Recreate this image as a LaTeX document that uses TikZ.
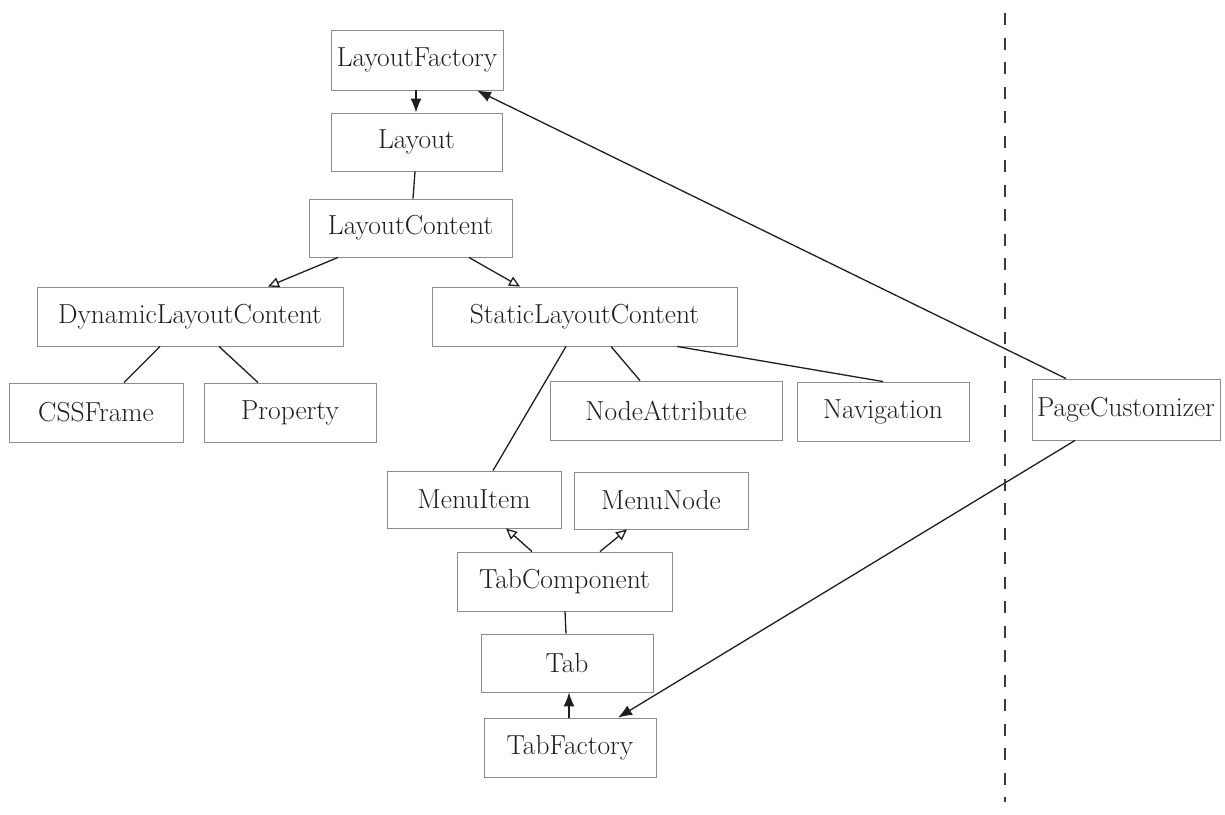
\documentclass[tikz,border=0pt]{standalone}
\usepackage{fontspec}
\usetikzlibrary{arrows.meta}
\definecolor{boxline}{HTML}{8C8C8C}
\definecolor{ink}{HTML}{1E1E1E}
\definecolor{divider}{HTML}{3A3A3A}
\begin{document}
\begin{tikzpicture}[x=1pt,y=-1pt,
  cls/.style={draw=boxline, line width=0.9pt, inner sep=0pt, text=ink,
    font=\fontsize{27.5}{30}\selectfont, minimum height=58pt},
  link/.style={draw=ink, line width=1.3pt},
  uses/.style={link, -{Latex[length=14pt,width=11pt]}},
  isa/.style={link, -{Triangle[open,length=11pt,width=10pt]}},
]
\useasboundingbox (0,0) rectangle (1225,814);

% classes
\node[cls, minimum width=172pt, minimum height=60pt] (lf)  at (417,60)     {LayoutFactory};
\node[cls, minimum width=171pt] (lay) at (416.5,142)  {Layout};
\node[cls, minimum width=203pt] (lc)  at (410.5,228)  {LayoutContent};
\node[cls, minimum width=306pt, minimum height=59pt] (dlc) at (190,316.5) {DynamicLayoutContent};
\node[cls, minimum width=305pt, minimum height=59pt] (slc) at (584.5,316.5) {StaticLayoutContent};
\node[cls, minimum width=174pt, minimum height=59pt] (css) at (96,412.5)   {CSSFrame};
\node[cls, minimum width=172pt, minimum height=59pt] (prop) at (290,412.5) {Property};
\node[cls, minimum width=232pt, minimum height=59pt] (natt) at (666,410.5) {NodeAttribute};
\node[cls, minimum width=172pt, minimum height=59pt] (nav) at (883,411.5)  {Navigation};
\node[cls, minimum width=188pt, minimum height=61pt] (pc)  at (1126,409.5) {PageCustomizer};
\node[cls, minimum width=174pt, minimum height=57pt] (mi)  at (474,499.5)  {MenuItem};
\node[cls, minimum width=174pt, minimum height=57pt] (mn)  at (661,500.5)  {MenuNode};
\node[cls, minimum width=215pt, minimum height=59pt] (tc)  at (564.5,581.5) {TabComponent};
\node[cls, minimum width=172pt] (tab) at (567,663)    {Tab};
\node[cls, minimum width=172pt, minimum height=59pt] (tf)  at (570,747.5)  {TabFactory};

% dependencies
\draw[uses] ([xshift=-1pt]lf.south) -- ([xshift=-0.5pt]lay.north);
\draw[uses] ([xshift=-1pt]tf.north) -- ([xshift=2pt]tab.south);
\draw[uses] ([xshift=-60pt]pc.north) -- ([xshift=60pt]lf.south);
\draw[uses] ([xshift=-51pt]pc.south) -- ([xshift=48pt]tf.north);

% associations
\draw[link] ([xshift=-1.5pt]lay.south) -- ([xshift=2.5pt]lc.north);
\draw[link] ([xshift=-30pt]dlc.south) -- ([xshift=28pt]css.north);
\draw[link] ([xshift=29pt]dlc.south) -- ([xshift=-32pt]prop.north);
\draw[link] ([xshift=-18.5pt]slc.south) -- ([xshift=19pt]mi.north);
\draw[link] ([xshift=26.5pt]slc.south) -- ([xshift=-26pt]natt.north);
\draw[link] ([xshift=92.5pt]slc.south) -- (nav.north);
\draw[link] ([xshift=0.5pt]tc.south) -- ([xshift=-1pt]tab.north);

% generalisations
\draw[isa] ([xshift=-72.5pt]lc.south) -- ([xshift=78pt]dlc.north);
\draw[isa] ([xshift=58.5pt]lc.south) -- ([xshift=-64.5pt]slc.north);
\draw[isa] ([xshift=-32.5pt]tc.north) -- ([xshift=32pt]mi.south);
\draw[isa] ([xshift=35.5pt]tc.north) -- ([xshift=-34pt]mn.south);

% boundary
\coordinate (bt) at (1005,13);
\coordinate (bb) at (1005,802);
\draw[divider, line width=1.6pt, dash pattern=on 12pt off 12.5pt] (bt) -- (bb);
\end{tikzpicture}
\end{document}
